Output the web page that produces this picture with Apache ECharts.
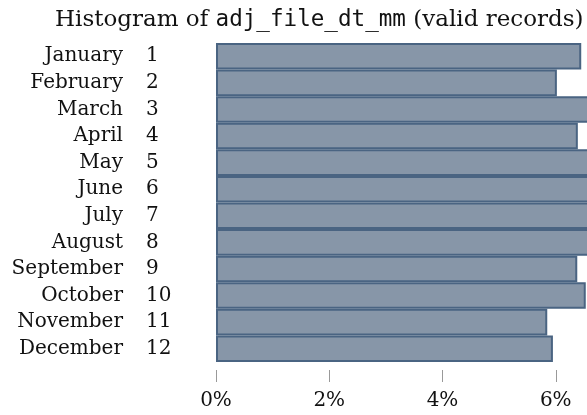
<!DOCTYPE html>
<html>
<head>
<meta charset="utf-8">
<script src="https://cdn.jsdelivr.net/npm/echarts@6/dist/echarts.min.js"></script>
<style>
  html, body { margin: 0; padding: 0; background: #fff; }
  #chart { width: 587px; height: 415px; }
</style>
</head>
<body>
<div id="chart"></div>
<script>
// Month names and their numeric codes (adj_file_dt_mm)
const monthNames = ['January', 'February', 'March', 'April', 'May', 'June',
  'July', 'August', 'September', 'October', 'November', 'December'];
const monthCodes = [1, 2, 3, 4, 5, 6, 7, 8, 9, 10, 11, 12];
// Share of valid records per month, in percent
const sharePct = [6.45, 6.02, 6.9, 6.39, 7.0, 7.1, 7.2, 7.3, 6.38, 6.53, 5.85, 5.95];
// Axis ticks (percent)
const tickValues = [0, 2, 4, 6, 8];

const serif = '"DejaVu Serif", serif';
const mono = '"DejaVu Sans Mono", monospace';
const ink = '#111';

const chart = echarts.init(document.getElementById('chart'), null, { renderer: 'canvas' });

const catAxisBase = {
  type: 'category',
  inverse: true,
  axisLine: { show: false },
  axisTick: { show: false },
  splitLine: { show: false }
};

chart.setOption({
  animation: false,
  title: {
    text: '{a|Histogram of }{b|adj_file_dt_mm}{a| (valid records)}',
    left: 50,
    top: 4,
    textStyle: {
      fontWeight: 'normal',
      rich: {
        a: { fontFamily: serif, fontSize: 23, fontWeight: 'normal', color: ink },
        b: { fontFamily: mono, fontSize: 22.6, fontWeight: 'normal', color: ink }
      }
    }
  },
  grid: {
    left: 216,
    top: 43,
    height: 319,
    width: 453,
    outerBoundsMode: 'none',
    containLabel: false
  },
  xAxis: {
    type: 'value',
    min: tickValues[0],
    max: tickValues[tickValues.length - 1],
    interval: 2,
    offset: 8,
    axisLine: { show: true, lineStyle: { color: 'rgba(0,0,0,0)' } },
    axisTick: { show: true, length: 12, lineStyle: { color: '#999', width: 1 } },
    splitLine: { show: false },
    axisLabel: {
      margin: 21,
      fontFamily: serif,
      fontSize: 20,
      color: ink,
      formatter: v => v + '%'
    }
  },
  yAxis: [
    // month codes, left-aligned column next to the bars
    Object.assign({}, catAxisBase, {
      data: monthCodes.map(String),
      axisLabel: {
        margin: 70,
        align: 'left',
        fontFamily: serif,
        fontSize: 20,
        color: ink
      }
    }),
    // month names, right-aligned column
    Object.assign({}, catAxisBase, {
      position: 'left',
      data: monthNames,
      axisLabel: {
        margin: 93,
        align: 'right',
        fontFamily: serif,
        fontSize: 20,
        color: ink
      }
    })
  ],
  series: [{
    type: 'bar',
    data: sharePct,
    barWidth: '100%',
    itemStyle: {
      color: '#8796a8',
      borderColor: '#4a6482',
      borderWidth: 2
    }
  }]
});
</script>
</body>
</html>
